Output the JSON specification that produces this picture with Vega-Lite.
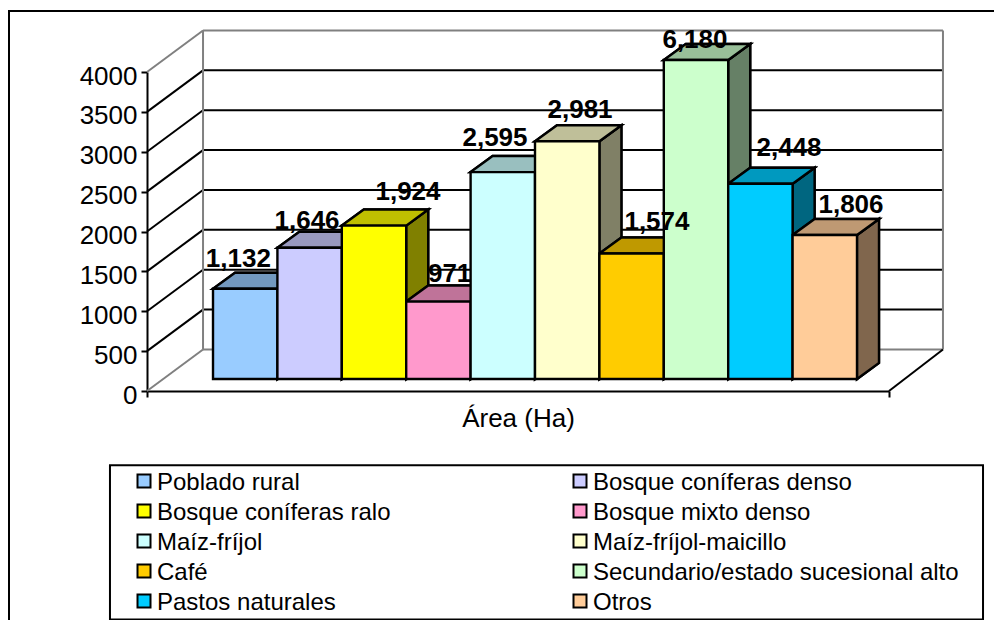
{
"$schema":"https://vega.github.io/schema/vega-lite/v6.json",
"width":990,"height":615,
"autosize":{"type":"none"},
"padding":{"left":9,"top":11,"right":0,"bottom":0},
"background":"white",
"config":{
 "view":{"stroke":"black","strokeWidth":2,"fill":"white"},
 "font":"Liberation Sans",
 "axis":{"grid":false,"domainColor":"black","domainWidth":2,"tickColor":"black","tickWidth":2,"tickSize":6,"labelFont":"Liberation Sans","labelFontSize":26,"labelColor":"black","labelPadding":4,"titleFont":"Liberation Sans","titleFontSize":26,"titleFontWeight":"normal","titleColor":"black"}
},
"datasets":{
 "bars":[
  {"category":"Poblado rural","area":1132,"pos":0,"labelPos":0.393,"labelLevel":1558},
  {"category":"Bosque coníferas denso","area":1646,"pos":1,"labelPos":1.46,"labelLevel":2035},
  {"category":"Bosque coníferas ralo","area":1924,"pos":2,"labelPos":3.028,"labelLevel":2399},
  {"category":"Bosque mixto denso","area":971,"pos":3,"labelPos":3.674,"labelLevel":1361},
  {"category":"Maíz-fríjol","area":2595,"pos":4,"labelPos":4.379,"labelLevel":3069},
  {"category":"Maíz-fríjol-maicillo","area":2981,"pos":5,"labelPos":5.699,"labelLevel":3417},
  {"category":"Café","area":1574,"pos":6,"labelPos":6.894,"labelLevel":2023},
  {"category":"Secundario/estado sucesional alto","area":6180,"pos":7,"labelPos":7.484,"labelLevel":4296},
  {"category":"Pastos naturales","area":2448,"pos":8,"labelPos":8.944,"labelLevel":2952},
  {"category":"Otros","area":1806,"pos":9,"labelPos":9.907,"labelLevel":2236}
 ],
 "ticks":[{"t":0},{"t":500},{"t":1000},{"t":1500},{"t":2000},{"t":2500},{"t":3000},{"t":3500},{"t":4000}]
},
"data":{"name":"bars"},
"transform":[
 {"calculate":"0","as":"a0"},{"calculate":"1","as":"a1"},
 {"fold":["a0","a1"],"as":["k","d"]},
 {"calculate":"min(datum.area,4000)","as":"h"},
 {"calculate":"datum.pos+1+datum.d*0.3416","as":"sx"},
 {"calculate":"datum.pos+datum.d*0.3416","as":"tx"},
 {"calculate":"150+datum.d*201","as":"b"},
 {"calculate":"150+datum.h+datum.d*201","as":"tp"},
 {"calculate":"datum.pos+1","as":"fx2"},
 {"calculate":"150+datum.h","as":"ftop"}
],
"layer":[
 {"data":{"name":"ticks"},
  "transform":[{"calculate":"-1.025","as":"xl"},{"calculate":"-0.155","as":"xb"},{"calculate":"datum.t+521","as":"yb"}],
  "mark":{"type":"rule","strokeWidth":2},
  "encoding":{
   "x":{"field":"xl","type":"quantitative","scale":{"domain":[-1.025,10.497],"range":[138,880],"nice":false,"zero":false},
    "axis":{"title":"Área (Ha)","values":[-1.025,10.497],"labels":false,"offset":-235,"titlePadding":7}},
   "x2":{"field":"xb"},
   "y":{"field":"t","type":"quantitative","scale":{"domain":[0,4000],"range":[380,61],"nice":false},
    "axis":{"title":null,"values":[0,500,1000,1500,2000,2500,3000,3500,4000],"format":"d","offset":-138,"labelOffset":4}},
   "y2":{"field":"yb"},
   "stroke":{"condition":{"test":"datum.t==0||datum.t==4000","value":"#808080"},"value":"black"}
  }},
 {"data":{"name":"ticks"},
  "transform":[{"calculate":"-0.155","as":"xb"},{"calculate":"11.335","as":"xr"},{"calculate":"datum.t+521","as":"yb"}],
  "mark":{"type":"rule","strokeWidth":2},
  "encoding":{
   "x":{"field":"xb","type":"quantitative"},"x2":{"field":"xr"},
   "y":{"field":"yb","type":"quantitative"},
   "stroke":{"condition":{"test":"datum.t==0||datum.t==4000","value":"#808080"},"value":"black"}
  }},
 {"data":{"name":"ticks"},
  "transform":[{"filter":"datum.t==0"},{"calculate":"-0.155","as":"xb"},{"calculate":"521","as":"y0"},{"calculate":"4521","as":"y1"}],
  "mark":{"type":"rule","strokeWidth":2,"stroke":"#808080"},
  "encoding":{"x":{"field":"xb","type":"quantitative"},"y":{"field":"y0","type":"quantitative"},"y2":{"field":"y1"}}},
 {"data":{"name":"ticks"},
  "transform":[{"filter":"datum.t==0"},{"calculate":"11.335","as":"xb"},{"calculate":"521","as":"y0"},{"calculate":"4521","as":"y1"}],
  "mark":{"type":"rule","strokeWidth":2,"stroke":"#808080"},
  "encoding":{"x":{"field":"xb","type":"quantitative"},"y":{"field":"y0","type":"quantitative"},"y2":{"field":"y1"}}},
 {"data":{"name":"ticks"},
  "transform":[{"filter":"datum.t==0"},{"calculate":"10.497","as":"xa"},{"calculate":"11.335","as":"xb"},{"calculate":"521","as":"y1"}],
  "mark":{"type":"rule","strokeWidth":2,"stroke":"black"},
  "encoding":{"x":{"field":"xa","type":"quantitative"},"x2":{"field":"xb"},"y":{"field":"t","type":"quantitative"},"y2":{"field":"y1"}}},
 {"mark":{"type":"area","fill":"black","stroke":"black","strokeWidth":2.4},
  "encoding":{"x":{"field":"sx","type":"quantitative","stack":null},"y":{"field":"tp","type":"quantitative","stack":null},"y2":{"field":"b"},"detail":{"field":"category"}}},
 {"mark":{"type":"area","fillOpacity":0.5,"stroke":"black","strokeWidth":2.4},
  "encoding":{"x":{"field":"sx","type":"quantitative","stack":null},"y":{"field":"tp","type":"quantitative","stack":null},"y2":{"field":"b"},"detail":{"field":"category"},
   "color":{"field":"category","type":"nominal"}}},
 {"mark":{"type":"area","orient":"horizontal","fill":"black","stroke":"black","strokeWidth":2.4},
  "encoding":{"y":{"field":"tp","type":"quantitative","stack":null},"x":{"field":"tx","type":"quantitative","stack":null},"x2":{"field":"sx"},"detail":{"field":"category"}}},
 {"mark":{"type":"area","orient":"horizontal","fillOpacity":0.75,"stroke":"black","strokeWidth":2.4},
  "encoding":{"y":{"field":"tp","type":"quantitative","stack":null},"x":{"field":"tx","type":"quantitative","stack":null},"x2":{"field":"sx"},"detail":{"field":"category"},
   "color":{"field":"category","type":"nominal"}}},
 {"transform":[{"filter":"datum.d==0"}],
  "mark":{"type":"rect","stroke":"black","strokeWidth":2.4,"opacity":1},
  "encoding":{
   "x":{"field":"pos","type":"quantitative"},"x2":{"field":"fx2"},
   "y":{"field":"b","type":"quantitative"},"y2":{"field":"ftop"},
   "color":{"field":"category","type":"nominal",
    "scale":{"domain":["Poblado rural","Bosque coníferas denso","Bosque coníferas ralo","Bosque mixto denso","Maíz-fríjol","Maíz-fríjol-maicillo","Café","Secundario/estado sucesional alto","Pastos naturales","Otros"],
     "range":["#99CCFF","#CCCCFF","#FFFF00","#FF99CC","#CCFFFF","#FFFFCC","#FFCC00","#CCFFCC","#00CCFF","#FFCC99"]},
    "legend":{"title":null,"orient":"none","legendX":123,"legendY":458,"direction":"horizontal","columns":2,"padding":0,"symbolType":"square","symbolSize":169,"symbolStrokeColor":"black","symbolStrokeWidth":2,"symbolOpacity":1,"labelFont":"Liberation Sans","labelFontSize":24,"labelColor":"black","labelLimit":500,"labelOffset":1,"rowPadding":4,"columnPadding":177,"gridAlign":"each","encode":{"labels":{"update":{"dy":{"value":2}}}}}}
  }},
 {"transform":[{"filter":"datum.d==0"}],
  "mark":{"type":"text","font":"Liberation Sans","fontSize":26,"fontWeight":"bold","color":"black","align":"center","baseline":"alphabetic"},
  "encoding":{"x":{"field":"labelPos","type":"quantitative"},"y":{"field":"labelLevel","type":"quantitative"},"text":{"field":"area","type":"quantitative","format":","}}},
 {"data":{"values":[{}]},
  "mark":{"type":"rect","fill":null,"stroke":"black","strokeWidth":2},
  "encoding":{"x":{"datum":-1.6,"type":"quantitative"},"x2":{"datum":11.957},"y":{"datum":-930,"type":"quantitative"},"y2":{"datum":-2864}}}
]
}
